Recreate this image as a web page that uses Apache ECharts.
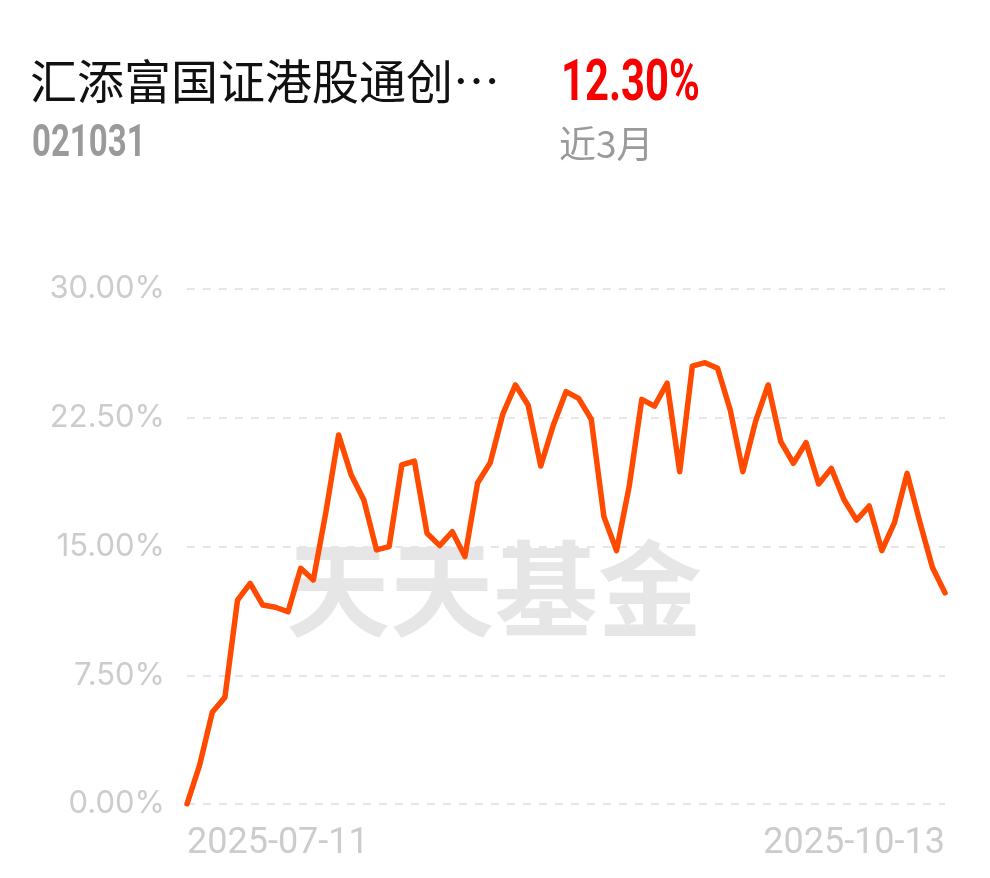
<!DOCTYPE html>
<html>
<head>
<meta charset="utf-8">
<script src="https://cdn.jsdelivr.net/npm/echarts@6/dist/echarts.min.js"></script>
<style>
html,body{margin:0;padding:0;background:#fff;}
#c{width:990px;height:878px;}
</style>
</head>
<body>
<div id="c"></div>
<script>
const fundName = '汇添富国证港股通创…';
const fundCode = '021031';
const periodReturn = '12.30%';
const periodLabel = '近3月';
const watermark = '天天基金';

const dates = [
'2025-07-11','2025-07-14','2025-07-15','2025-07-16','2025-07-17','2025-07-18',
'2025-07-21','2025-07-22','2025-07-23','2025-07-24','2025-07-25',
'2025-07-28','2025-07-29','2025-07-30','2025-07-31','2025-08-01',
'2025-08-04','2025-08-05','2025-08-06','2025-08-07','2025-08-08',
'2025-08-11','2025-08-12','2025-08-13','2025-08-14','2025-08-15',
'2025-08-18','2025-08-19','2025-08-20','2025-08-21','2025-08-22',
'2025-08-25','2025-08-26','2025-08-27','2025-08-28','2025-08-29',
'2025-09-01','2025-09-02','2025-09-03','2025-09-04','2025-09-05',
'2025-09-08','2025-09-09','2025-09-10','2025-09-11','2025-09-12',
'2025-09-15','2025-09-16','2025-09-17','2025-09-18','2025-09-19',
'2025-09-22','2025-09-23','2025-09-24','2025-09-25','2025-09-26',
'2025-09-29','2025-09-30','2025-10-09','2025-10-10','2025-10-13'
];

const returns = [
0, 2.27, 5.34, 6.21, 11.88, 12.85, 11.59, 11.46, 11.2, 13.73, 13.05, 17.03, 21.5, 19.16, 17.71, 14.8, 14.99, 19.75, 19.98, 15.77, 15.05, 15.86, 14.41, 18.7,
19.88, 22.72, 24.41, 23.24, 19.69, 22.08, 24.02, 23.63, 22.41, 16.74, 14.76, 18.49, 23.57, 23.18, 24.51, 19.36, 25.51, 25.71, 25.38,
22.95, 19.36, 22.27, 24.41, 21.11, 19.85, 21.05, 18.64, 19.55, 17.74, 16.54, 17.36, 14.76, 16.39, 19.26, 16.45, 13.79, 12.30
];

const yTicks = [0, 7.5, 15, 22.5, 30];

const chart = echarts.init(document.getElementById('c'));
const lastIdx = dates.length - 1;
chart.setOption({
  animation: false,
  backgroundColor: '#fff',
  grid: {left: 187, right: 45, top: 289, bottom: 74, containLabel: false},
  graphic: [
    {type: 'text', left: 30, top: 58, z: 10,
      style: {text: fundName, font: '47px "Noto Sans CJK SC", sans-serif', fill: '#111'}},
    {type: 'text', x: 32, y: 123, scaleX: 0.75, z: 10,
      style: {text: fundCode, font: 'bold 44px Roboto, sans-serif', fill: '#9a9a9a'}},
    {type: 'text', x: 561, y: 56, scaleX: 0.72, z: 10,
      style: {text: periodReturn, font: 'bold 58px Roboto, sans-serif', fill: '#f80000'}},
    {type: 'text', left: 559, top: 125, z: 10,
      style: {text: periodLabel, font: '37px "Noto Sans CJK SC", sans-serif', fill: '#9a9a9a'}},
    {type: 'text', left: 286, top: 537, z: 0,
      style: {text: watermark, font: 'bold 104px "Noto Sans CJK SC", sans-serif', fill: '#e6e6e6'}}
  ],
  xAxis: {
    type: 'category',
    data: dates,
    boundaryGap: false,
    axisLine: {show: false},
    axisTick: {show: false},
    splitLine: {show: false},
    axisLabel: {
      interval: function (i) { return i === 0 || i === lastIdx; },
      color: '#cccccc',
      fontSize: 36,
      fontFamily: 'Roboto, sans-serif',
      margin: 22,
      alignMinLabel: 'left',
      alignMaxLabel: 'right',
      showMinLabel: true,
      showMaxLabel: true
    }
  },
  yAxis: {
    type: 'value',
    min: yTicks[0],
    max: yTicks[yTicks.length - 1],
    interval: 7.5,
    axisLine: {show: false},
    axisTick: {show: false},
    axisLabel: {
      color: '#cccccc',
      fontSize: 31,
      fontFamily: 'Inter, sans-serif',
      margin: 22,
      formatter: function (v) { return v.toFixed(2) + '%'; }
    },
    splitLine: {show: true, lineStyle: {color: '#e6e6e6', width: 2, type: [8, 8]}}
  },
  series: [{
    type: 'line',
    data: returns,
    symbol: 'none',
    smooth: false,
    z: 5,
    lineStyle: {color: '#ff4a00', width: 5.5, join: 'round', cap: 'round'}
  }]
});
</script>
</body>
</html>
